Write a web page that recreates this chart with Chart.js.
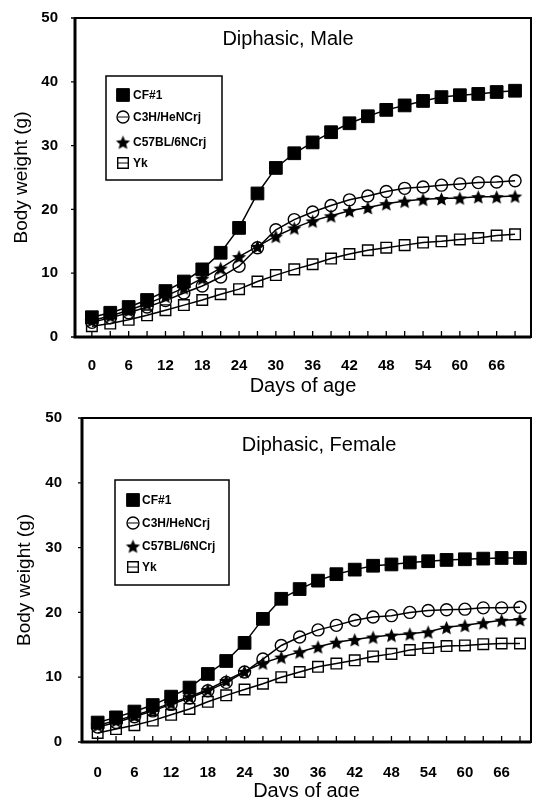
<!DOCTYPE html>
<html lang="en">
  <head>
    <meta charset="UTF-8" />
    <title>Diphasic body weight</title>
    <style>
      body { margin: 0; background: #fff; overflow: hidden; width: 541px; height: 797px; }
      canvas { position: absolute; left: 0; }
      #male { top: 0; }
      #female { top: 397px; }
    </style>
  </head>
  <body>
    <canvas id="male" width="541" height="397"></canvas>
    <canvas id="female" width="541" height="410"></canvas>

    <script src="https://cdn.jsdelivr.net/npm/chart.js@4.4.0/dist/chart.umd.min.js"></script>
    <script>
      // datos (dias de edad, peso en g)
      const days = [0, 3, 6, 9, 12, 15, 18, 21, 24, 27, 30, 33, 36, 39, 42, 45, 48, 51, 54, 57, 60, 63, 66, 69];
      const xTickLabels = [0, 6, 12, 18, 24, 30, 36, 42, 48, 54, 60, 66];
      const yTicks = [0, 10, 20, 30, 40, 50];
      const strains = ['CF#1', 'C3H/HeNCrj', 'C57BL/6NCrj', 'Yk'];

      const cf1Male = [3.1, 3.8, 4.7, 5.8, 7.2, 8.7, 10.6, 13.2, 17.1, 22.5, 26.5, 28.8, 30.5, 32.1, 33.5, 34.6, 35.6, 36.3, 37.0, 37.6, 37.9, 38.1, 38.4, 38.6];
      const c3hMale = [2.3, 3.0, 3.8, 4.7, 5.7, 6.9, 8.0, 9.4, 11.1, 14.0, 16.8, 18.4, 19.6, 20.6, 21.5, 22.1, 22.8, 23.3, 23.5, 23.8, 24.0, 24.2, 24.3, 24.5];
      const c57Male = [2.6, 3.3, 4.2, 5.2, 6.4, 7.7, 9.2, 10.8, 12.6, 14.2, 15.8, 17.1, 18.2, 19.0, 19.8, 20.3, 20.9, 21.3, 21.6, 21.7, 21.8, 22.0, 22.0, 22.1];
      const ykMale = [1.7, 2.1, 2.7, 3.4, 4.2, 5.0, 5.8, 6.7, 7.5, 8.7, 9.7, 10.6, 11.4, 12.3, 13.0, 13.6, 14.0, 14.4, 14.8, 15.0, 15.3, 15.5, 15.9, 16.1];

      const cf1Female = [3.0, 3.8, 4.7, 5.7, 7.0, 8.4, 10.5, 12.5, 15.3, 19.0, 22.1, 23.6, 24.9, 25.9, 26.6, 27.2, 27.4, 27.7, 27.9, 28.1, 28.2, 28.3, 28.4, 28.4];
      const c3hFemale = [2.3, 3.0, 3.9, 4.8, 5.8, 6.8, 7.9, 9.2, 10.8, 12.8, 14.9, 16.2, 17.3, 18.0, 18.8, 19.3, 19.5, 20.0, 20.3, 20.4, 20.5, 20.7, 20.7, 20.8];
      const c57Female = [2.6, 3.3, 4.1, 5.0, 6.0, 7.0, 8.1, 9.5, 10.9, 12.2, 13.1, 13.9, 14.7, 15.4, 15.8, 16.2, 16.5, 16.7, 17.0, 17.7, 18.0, 18.4, 18.8, 18.9];
      const ykFemale = [1.4, 2.0, 2.6, 3.3, 4.2, 5.1, 6.2, 7.2, 8.1, 9.0, 10.0, 10.8, 11.6, 12.1, 12.6, 13.2, 13.6, 14.2, 14.5, 14.8, 14.9, 15.1, 15.2, 15.2];

      const FONT = "'Liberation Sans', Arial, sans-serif";

      // estrella rellena para C57BL/6NCrj
      function makeStar(r) {
        const c = document.createElement('canvas');
        c.width = c.height = Math.ceil(r * 2 + 2);
        const g = c.getContext('2d');
        g.beginPath();
        for (let i = 0; i < 10; i++) {
          const rad = i % 2 ? r * 0.45 : r;
          const a = -Math.PI / 2 + (i * Math.PI) / 5;
          g.lineTo(c.width / 2 + rad * Math.cos(a), c.height / 2 + 1 + rad * Math.sin(a));
        }
        g.closePath();
        g.fillStyle = '#000';
        g.fill();
        return c;
      }
      const star = makeStar(7.5);

      const markers = [
        { pointStyle: 'rect', radius: 9, bg: '#000', bw: 1 },
        { pointStyle: 'circle', radius: 6, bg: 'rgba(0,0,0,0)', bw: 1.4 },
        { pointStyle: star, radius: 7, bg: '#000', bw: 0 },
        { pointStyle: 'rect', radius: 7.5, bg: 'rgba(0,0,0,0)', bw: 1.4 },
      ];

      // marco, marcas de eje, titulo y leyenda
      const framePlugin = {
        id: 'frame',
        afterDraw(chart, args, opts) {
          const { ctx, chartArea: a, scales } = chart;
          ctx.save();
          ctx.strokeStyle = '#000';
          ctx.lineWidth = 1.3;
          ctx.beginPath();
          scales.x.ticks.forEach((t) => {
            const px = scales.x.getPixelForValue(t.value);
            ctx.moveTo(px, a.bottom);
            ctx.lineTo(px, a.bottom - 6);
          });
          scales.y.ticks.forEach((t) => {
            const py = scales.y.getPixelForValue(t.value);
            ctx.moveTo(a.left - 4, py);
            ctx.lineTo(a.left, py);
          });
          ctx.stroke();

          ctx.lineWidth = 2;
          ctx.strokeRect(a.left, a.top, a.right - a.left, a.bottom - a.top);
          ctx.lineWidth = 3;
          ctx.beginPath();
          ctx.moveTo(a.left, a.top);
          ctx.lineTo(a.left, a.bottom);
          ctx.lineTo(a.right, a.bottom);
          ctx.stroke();

          ctx.fillStyle = '#000';
          ctx.font = '20px ' + FONT;
          ctx.textAlign = 'center';
          ctx.textBaseline = 'middle';
          ctx.fillText(opts.title, opts.titleX, opts.titleY);

          const L = opts.legend;
          ctx.lineWidth = 1.5;
          ctx.strokeRect(L.left, L.top, L.width, L.height);
          ctx.font = 'bold 12px ' + FONT;
          ctx.textAlign = 'left';
          chart.data.datasets.forEach((ds, i) => {
            const x = L.left + L.markerX;
            const y = L.top + L.rows[i];
            ctx.lineWidth = 1;
            ctx.beginPath();
            ctx.moveTo(x - 5, y);
            ctx.lineTo(x + 5, y);
            ctx.stroke();
            ctx.fillStyle = ds.pointBackgroundColor;
            ctx.lineWidth = ds.pointBorderWidth;
            Chart.helpers.drawPoint(ctx, { pointStyle: ds.pointStyle, radius: ds.pointRadius, borderWidth: ds.pointBorderWidth, rotation: 0 }, x, y);
            ctx.fillStyle = '#000';
            ctx.fillText(ds.label, L.left + L.textX, y + 1);
          });
          ctx.restore();
        },
      };

      function makePanel(id, series, cfg) {
        const datasets = series.map((vals, i) => ({
          label: strains[i],
          data: days.map((d, j) => ({ x: d, y: vals[j] })),
          borderColor: '#000',
          borderWidth: 1.5,
          pointStyle: markers[i].pointStyle,
          pointRadius: markers[i].radius,
          pointBackgroundColor: markers[i].bg,
          pointBorderColor: '#000',
          pointBorderWidth: markers[i].bw,
          tension: 0,
        }));

        return new Chart(document.getElementById(id), {
          type: 'line',
          data: { datasets },
          plugins: [framePlugin],
          options: {
            responsive: false,
            animation: false,
            devicePixelRatio: 1,
            layout: { padding: { top: cfg.top, right: cfg.right, left: 0, bottom: 0 } },
            plugins: {
              legend: { display: false },
              tooltip: { enabled: false },
              frame: { title: cfg.title, titleX: cfg.titleX, titleY: cfg.titleY, legend: cfg.legend },
            },
            scales: {
              x: {
                type: 'linear',
                min: cfg.xMin,
                max: cfg.xMax,
                afterBuildTicks: (s) => { s.ticks = days.map((v) => ({ value: v })); },
                afterFit: (s) => { s.height = cfg.xHeight; },
                grid: { display: false },
                border: { display: false },
                ticks: {
                  autoSkip: false,
                  maxRotation: 0,
                  padding: cfg.xPad,
                  color: '#000',
                  font: { family: FONT, size: 15, weight: 'bold' },
                  callback: (v) => (xTickLabels.includes(v) ? String(v) : ''),
                },
                title: {
                  display: true,
                  text: 'Days of age',
                  color: '#000',
                  font: { family: FONT, size: 20, lineHeight: 1.1 },
                  padding: { top: 0, bottom: cfg.xTitlePad },
                },
              },
              y: {
                min: 0,
                max: 50,
                afterBuildTicks: (s) => { s.ticks = yTicks.map((v) => ({ value: v })); },
                afterFit: (s) => { s.width = cfg.left; },
                grid: { display: false },
                border: { display: false },
                ticks: {
                  padding: cfg.yPad,
                  color: '#000',
                  font: { family: FONT, size: 15, weight: 'bold' },
                },
                title: {
                  display: true,
                  text: 'Body weight (g)',
                  color: '#000',
                  font: { family: FONT, size: 19, lineHeight: 1.1 },
                  padding: { top: cfg.yTitlePad, bottom: 0 },
                },
              },
            },
          },
        });
      }

      makePanel('male', [cf1Male, c3hMale, c57Male, ykMale], {
        top: 14, right: 6, left: 75, xHeight: 60,
        xMin: -2.75, xMax: 71.6, xPad: 12, xTitlePad: 0, yPad: 9, yTitlePad: 11,
        title: 'Diphasic, Male', titleX: 288, titleY: 39,
        legend: { left: 106, top: 76, width: 116, height: 104, markerX: 17, textX: 27, rows: [19, 41, 66, 87] },
      });

      makePanel('female', [cf1Female, c3hFemale, c57Female, ykFemale], {
        top: 20, right: 0, left: 82, xHeight: 65,
        xMin: -2.56, xMax: 70.8, xPad: 14, xTitlePad: 5, yPad: 12, yTitlePad: 14,
        title: 'Diphasic, Female', titleX: 319, titleY: 48,
        legend: { left: 115, top: 83, width: 114, height: 105, markerX: 18, textX: 27, rows: [20, 43, 66, 87] },
      });
    </script>
  </body>
</html>
